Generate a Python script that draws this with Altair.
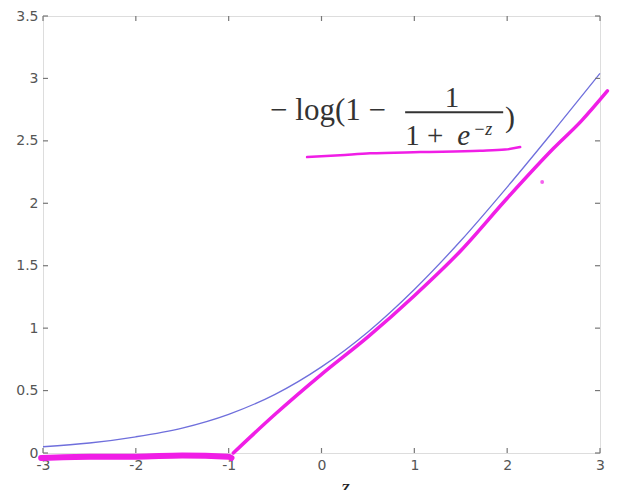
import altair as alt
import pandas as pd

# Blue curve: -log(1 - 1/(1+e^-z))
blue_z = [-3.0, -2.5, -2.0, -1.5, -1.0, -0.5, 0.0, 0.5, 1.0, 1.5, 2.0, 2.5, 3.0]
blue_v = [0.05, 0.08, 0.13, 0.20, 0.31, 0.47, 0.69, 0.97, 1.31, 1.70, 2.13, 2.58, 3.04]

# Magenta hand-drawn approximation: flat part
flat_z = [-3.02, -2.5, -2.0, -1.5, -1.0, -0.97]
flat_v = [-0.04, -0.03, -0.03, -0.02, -0.03, -0.04]

# Magenta hand-drawn approximation: rising part
rise_z = [-0.95, -0.5, 0.0, 0.5, 1.0, 1.5, 2.0, 2.5, 2.8, 3.08]
rise_v = [0.0, 0.31, 0.63, 0.93, 1.26, 1.62, 2.04, 2.44, 2.66, 2.9]

# Magenta underline below the formula
under_z = [-0.155, 0.2, 0.524, 1.062, 1.709, 1.978, 2.14]
under_v = [2.37, 2.385, 2.40, 2.41, 2.42, 2.43, 2.45]

# stray magenta dot
dot_z = [2.377]
dot_v = [2.17]

x_ticks = [-3, -2, -1, 0, 1, 2, 3]
y_ticks = [0, 0.5, 1, 1.5, 2, 2.5, 3, 3.5]

# formula pieces
formula_main = ["\u2212 log(1 \u2212"]
formula_num = ["1"]
formula_den = ["1 +"]
formula_e = ["e"]
formula_sup = ["\u2212z"]
formula_par = [")"]
bar_z = [0.901]
bar_z2 = [1.957]
bar_v = [2.73]

W, H = 557, 437
MAGENTA = "#f01ee6"
BLUE = "#6f6fdc"
TXT = "#333333"

xs = alt.Scale(domain=[-3, 3], nice=False, zero=False)
ys = alt.Scale(domain=[0, 3.5], nice=False, zero=False)

blue_df = pd.DataFrame({"z": blue_z, "v": blue_v})
flat_df = pd.DataFrame({"z": flat_z, "v": flat_v})
rise_df = pd.DataFrame({"z": rise_z, "v": rise_v})
under_df = pd.DataFrame({"z": under_z, "v": under_v})
dot_df = pd.DataFrame({"z": dot_z, "v": dot_v})
xt_df = pd.DataFrame({"t": x_ticks})
yt_df = pd.DataFrame({"t": y_ticks})

base_axes = alt.Chart(blue_df).mark_line(color=BLUE, strokeWidth=1.3, interpolate="monotone").encode(
    x=alt.X("z:Q", scale=xs, axis=alt.Axis(values=x_ticks, ticks=False, domain=False, grid=False,
                                           labelExpr="datum.value + ''",
                                           labelFont="DejaVu Sans", labelFontSize=14, labelColor="#555",
                                           labelPadding=5, title="z", titleFont="Liberation Serif",
                                           titleFontStyle="italic", titleFontSize=22, titleFontWeight="normal",
                                           titleColor="#222", titlePadding=4, titleX=302, labelFlush=False)),
    y=alt.Y("v:Q", scale=ys, axis=alt.Axis(values=y_ticks, ticks=False, domain=False, grid=False,
                                           labelExpr="datum.value + ''",
                                           labelFont="DejaVu Sans", labelFontSize=14, labelColor="#555",
                                           labelPadding=5, title=None, labelFlush=False)),
)

flat = alt.Chart(flat_df).mark_line(color=MAGENTA, strokeWidth=6, strokeCap="round", interpolate="monotone").encode(
    x=alt.X("z:Q", scale=xs), y=alt.Y("v:Q", scale=ys))
rise = alt.Chart(rise_df).mark_line(color=MAGENTA, strokeWidth=3.5, strokeCap="round", interpolate="monotone").encode(
    x=alt.X("z:Q", scale=xs), y=alt.Y("v:Q", scale=ys))
under = alt.Chart(under_df).mark_line(color=MAGENTA, strokeWidth=2.5, strokeCap="round", interpolate="monotone").encode(
    x=alt.X("z:Q", scale=xs), y=alt.Y("v:Q", scale=ys))
dot = alt.Chart(dot_df).mark_point(color=MAGENTA, filled=True, size=15, opacity=0.7).encode(
    x=alt.X("z:Q", scale=xs), y=alt.Y("v:Q", scale=ys))

tick_color = "#777"
bt = alt.Chart(xt_df).mark_rule(color=tick_color, strokeWidth=1.2).encode(
    x=alt.X("t:Q", scale=xs), y=alt.value(H), y2=alt.value(H - 5))
tt = alt.Chart(xt_df).mark_rule(color=tick_color, strokeWidth=1.2).encode(
    x=alt.X("t:Q", scale=xs), y=alt.value(0), y2=alt.value(5))
lt = alt.Chart(yt_df).mark_rule(color=tick_color, strokeWidth=1.2).encode(
    y=alt.Y("t:Q", scale=ys), x=alt.value(0), x2=alt.value(5))
rt = alt.Chart(yt_df).mark_rule(color=tick_color, strokeWidth=1.2).encode(
    y=alt.Y("t:Q", scale=ys), x=alt.value(W), x2=alt.value(W - 5))


def txt(items, z, v, size, align="left", style="normal"):
    df = pd.DataFrame({"s": items, "z": z, "v": v})
    return alt.Chart(df).mark_text(font="Liberation Serif", fontSize=size, color=TXT, align=align,
                                   fontStyle=style, baseline="alphabetic").encode(
        x=alt.X("z:Q", scale=xs), y=alt.Y("v:Q", scale=ys), text="s:N")


t_main = txt(formula_main, [-0.554], [2.666], 31)
t_num = txt(formula_num, [1.407], [2.77], 29, align="center")
t_den = txt(formula_den, [0.901], [2.466], 29)
t_e = txt(formula_e, [1.461], [2.466], 29, style="italic")
t_sup = txt(formula_sup, [1.634], [2.55], 18, style="italic")
t_par = txt(formula_par, [1.978], [2.61], 30)

bar = alt.Chart(pd.DataFrame({"z": bar_z, "z2": bar_z2, "v": bar_v})).mark_rule(color=TXT, strokeWidth=2).encode(
    x=alt.X("z:Q", scale=xs), x2="z2:Q", y=alt.Y("v:Q", scale=ys))

chart = alt.layer(base_axes, flat, rise, under, dot, bt, tt, lt, rt, t_main, t_num, t_den, t_e, t_sup, t_par, bar).properties(
    width=W, height=H,
    autosize=alt.AutoSizeParams(type="none"),
    padding={"left": 35, "top": 8, "right": 12, "bottom": 50},
).configure_view(stroke="#7a7a7a", strokeWidth=1.6).configure(background="white")

chart.save("out.html", embed_options={"renderer": "svg", "actions": False})
